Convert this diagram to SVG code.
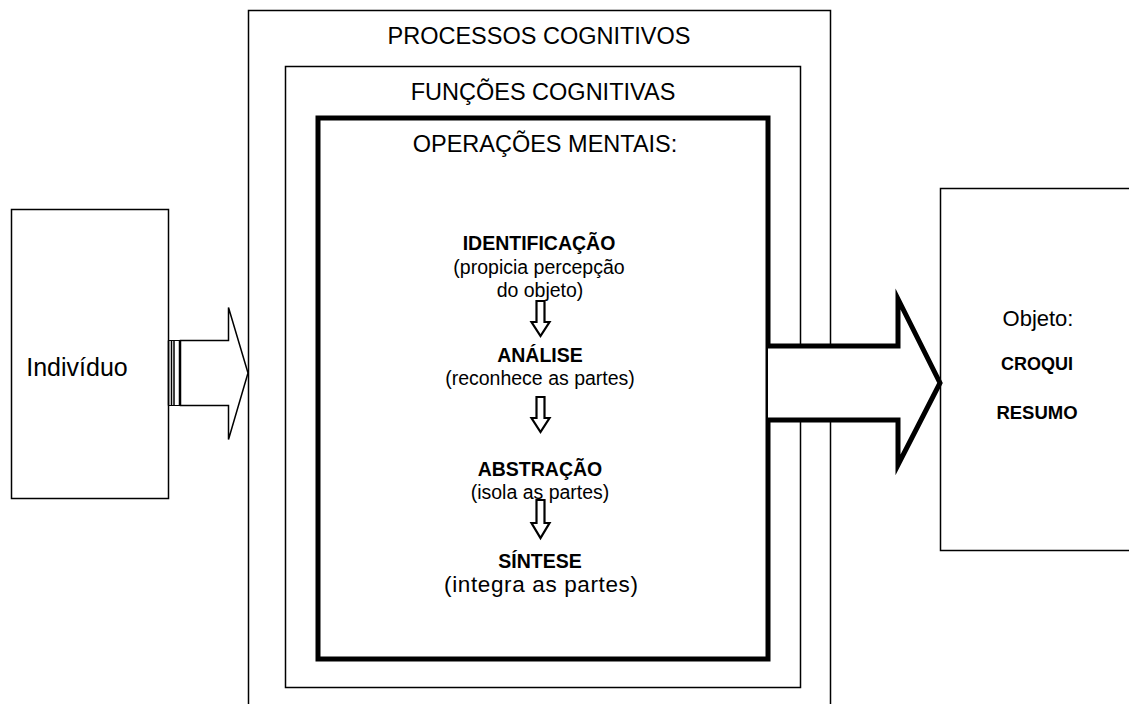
<svg xmlns="http://www.w3.org/2000/svg" width="1129" height="704" viewBox="0 0 1129 704">
<style>
.box{fill:#fff;stroke:#000;stroke-width:1.5}
.thick{fill:#fff;stroke:#000;stroke-width:5}
.t{font-family:"Liberation Sans",Arial,sans-serif;fill:#000;text-anchor:middle}
.h{font-size:23.5px}
.b{font-size:19.5px}
.bb{font-size:19.5px;font-weight:bold}
.arr{fill:#fff;stroke:#000;stroke-width:1.5}
.darr{fill:#fff;stroke:#000;stroke-width:2.2;stroke-linejoin:miter}
</style>
<g id="processos">
<rect class="box" x="248.5" y="10.5" width="582" height="720"/>
<text class="t h" x="539" y="44">PROCESSOS COGNITIVOS</text>
</g>
<g id="funcoes">
<rect class="box" x="285.5" y="66.5" width="515" height="621"/>
<text class="t h" x="543" y="100">FUNÇÕES COGNITIVAS</text>
</g>
<g id="operacoes">
<rect class="thick" x="318" y="118" width="450" height="541"/>
<text class="t h" x="545" y="152">OPERAÇÕES MENTAIS:</text>
<text class="t bb" x="539" y="250">IDENTIFICAÇÃO</text>
<text class="t b" x="539" y="274" font-size="18.5">(propicia percepção</text>
<text class="t b" x="540" y="297">do objeto)</text>
<text class="t bb" x="540" y="362">ANÁLISE</text>
<text class="t b" x="540" y="385">(reconhece as partes)</text>
<text class="t bb" x="540" y="476">ABSTRAÇÃO</text>
<text class="t b" x="540" y="499">(isola as partes)</text>
<text class="t bb" x="540" y="568">SÍNTESE</text>
<text class="t b" x="541" y="592" style="font-size:22.5px" textLength="194" lengthAdjust="spacing">(integra as partes)</text>
</g>
<g id="individuo">
<rect class="box" x="11.5" y="209.5" width="157" height="289"/>
<text class="t" x="77" y="376" font-size="25">Indivíduo</text>
</g>
<g id="objeto">
<rect class="box" x="940.5" y="188.5" width="200" height="362"/>
<text class="t" x="1038" y="326" font-size="22">Objeto:</text>
<text class="t" x="1037" y="370" font-size="18" font-weight="bold">CROQUI</text>
<text class="t" x="1037" y="419" font-size="18.5" font-weight="bold">RESUMO</text>
</g>
<g id="connectors">
<path class="arr" d="M180.5,340.5 H228.5 V307.5 L248,373 L228.5,439.5 V405.5 H180.5 Z"/>
<path d="M168.5,340.5 V405.5 M171.5,340.5 V405.5 M174,340.5 V405.5 M179.5,340.5 V405.5" stroke="#000" stroke-width="1.5" fill="none"/>
<path d="M168.5,340.5 H180.5 M168.5,405.5 H180.5" stroke="#000" stroke-width="1" fill="none"/>
<path d="M768,346 H898 V299 L940,383 L898,465 V420 H768" fill="#fff" stroke="#000" stroke-width="5" stroke-miterlimit="10"/>
<path class="darr" d="M536.5,301 H544.5 V322 H549.5 L540.5,336 L531.5,322 H536.5 Z"/>
<path class="darr" d="M536.5,397 H544.5 V418 H549.5 L540.5,432 L531.5,418 H536.5 Z"/>
<path class="darr" d="M536.5,500 H544.5 V523 H549.5 L540.5,538 L531.5,523 H536.5 Z"/>
</g>
</svg>
